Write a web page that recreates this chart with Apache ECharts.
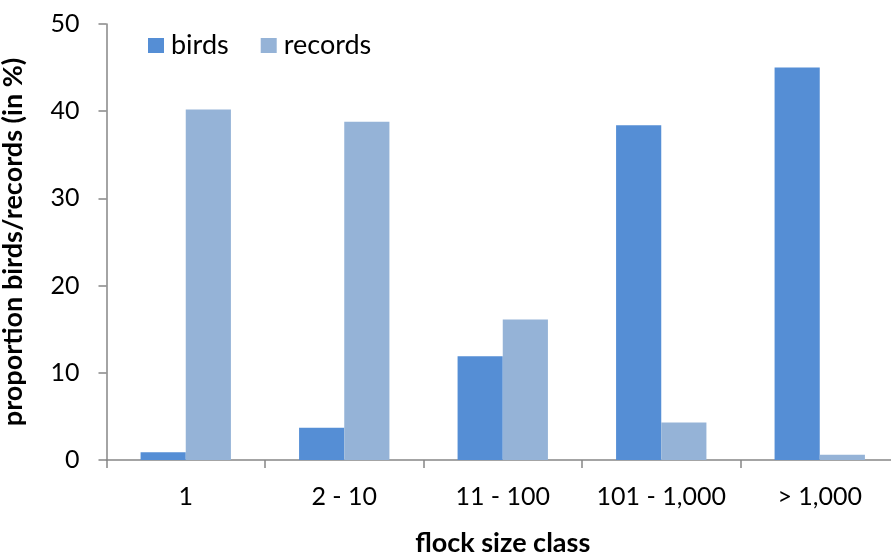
<!DOCTYPE html>
<html><head><meta charset="utf-8">
<script src="https://cdn.jsdelivr.net/npm/echarts@6/dist/echarts.min.js"></script>
<style>html,body{margin:0;padding:0;background:#fff}#c{width:891px;height:553px}</style>
</head><body><div id="c"></div>
<script>
const categories = ['1', '2 - 10', '11 - 100', '101 - 1,000', '> 1,000'];
const birds = [0.9, 3.7, 11.9, 38.4, 45.0];
const records = [40.2, 38.8, 16.1, 4.3, 0.6];
const seriesNames = ['birds', 'records'];
const yTitle = 'proportion birds/records (in %)';
const xTitle = 'flock size class';

const font = 'Lato, "Open Sans", sans-serif';
const chart = echarts.init(document.getElementById('c'));
chart.setOption({
  animation: false,
  grid: {left: 106.5, top: 24, right: -8, bottom: 93, containLabel: false, outerBoundsMode: 'none'},
  legend: {
    data: seriesNames, left: 143, top: 27, itemWidth: 16, itemHeight: 15, itemGap: 32,
    icon: 'rect',
    textStyle: {fontFamily: font, fontSize: 27, color: '#000', padding: [0,0,0,2]}
  },
  xAxis: {
    type: 'category', data: categories,
    axisLine: {lineStyle: {color: '#868686', width: 1.5}},
    axisTick: {show: true, interval: 0, length: 8, lineStyle: {color: '#868686', width: 1.5}},
    axisLabel: {interval: 0, fontFamily: font, fontSize: 25, color: '#000', margin: 24},
    name: xTitle, nameLocation: 'middle', nameGap: 70,
    nameTextStyle: {fontFamily: font, fontSize: 27, fontWeight: 'bold', color: '#000'}
  },
  yAxis: {
    type: 'value', min: 0, max: 50, interval: 10,
    axisLine: {show: true, lineStyle: {color: '#868686', width: 1.5}},
    axisTick: {show: true, length: 8, lineStyle: {color: '#868686', width: 1.5}},
    splitLine: {show: false},
    axisLabel: {fontFamily: font, fontSize: 25, color: '#000', margin: 27},
    name: yTitle, nameLocation: 'middle', nameGap: 80, nameRotate: 90,
    nameTextStyle: {fontFamily: font, fontSize: 27, fontWeight: 'bold', color: '#000'}
  },
  series: [
    {name: seriesNames[0], type: 'bar', data: birds, barGap: '0%', barCategoryGap: '43%',
     itemStyle: {color: '#558ED5'}},
    {name: seriesNames[1], type: 'bar', data: records, barGap: '0%', barCategoryGap: '43%',
     itemStyle: {color: '#95B3D7'}}
  ]
});
</script></body></html>
